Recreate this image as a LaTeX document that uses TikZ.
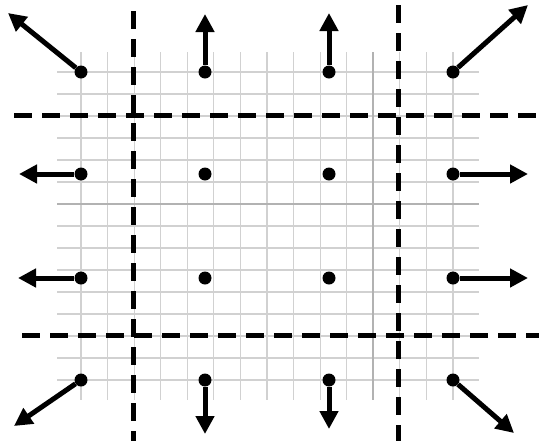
\documentclass[tikz,border=0pt]{standalone}
\usetikzlibrary{arrows.meta}
\tikzset{
  dot/.style={circle, fill=black, inner sep=0pt, minimum size=13pt},
  push/.style={-{Triangle[length=18pt,width=18pt]}, line width=5pt},
  cut/.style={line width=5pt, dash pattern=on 18pt off 10pt},
  gridline/.style={black!18, line width=1.2pt},
  gridmark/.style={black!30, line width=1.8pt}
}
\begin{document}
\begin{tikzpicture}[x=1pt, y=-1pt]
  \useasboundingbox (0,0) rectangle (539,445);
  % grid
  \foreach \i in {0,...,14}
    \draw[gridline] ({81+\i*372/14},52) -- ({81+\i*372/14},400);
  \foreach \j in {0,...,14}
    \draw[gridline] (57,{72+\j*22}) -- (479,{72+\j*22});
  \draw[gridmark] ({81+11*372/14},52) -- ({81+11*372/14},400);
  \draw[gridmark] (57,204) -- (479,204);
  % dashed cuts
  \draw[cut] (133,11) -- (133,441);
  \draw[cut] (398,5) -- (398,441);
  \draw[cut] (14,115) -- (539,115);
  \draw[cut] (22,335) -- (539,335);
  % dots
  \foreach \c/\x in {1/81, 2/205, 3/329, 4/453}
    \foreach \r/\y in {1/72, 2/174, 3/278, 4/380}
      \node[dot] (p\r\c) at (\x,\y) {};
  % arrow ends
  \coordinate (t11) at (8,13);
  \coordinate (t12) at (205,14);
  \coordinate (t13) at (329,13);
  \coordinate (t14) at (528,5);
  \coordinate (t21) at (19,174);
  \coordinate (t24) at (528,174);
  \coordinate (t31) at (18,278);
  \coordinate (t34) at (528,278);
  \coordinate (t41) at (14,426);
  \coordinate (t42) at (205,434);
  \coordinate (t43) at (329,429);
  \coordinate (t44) at (514,433);
  \foreach \k in {11,12,13,14,21,24,31,34,41,42,43,44}
    \draw[push] (p\k) -- (t\k);
\end{tikzpicture}
\end{document}
